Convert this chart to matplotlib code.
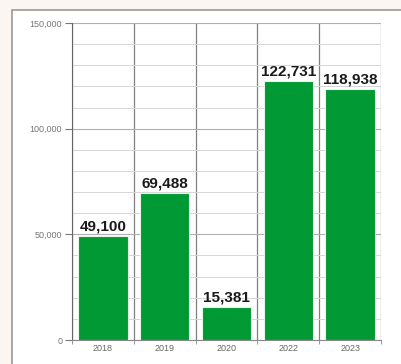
import numpy as np
import matplotlib.pyplot as plt
from matplotlib.patches import Rectangle
from matplotlib.ticker import MultipleLocator, FuncFormatter

plt.rcParams['font.family'] = ['Liberation Sans', 'DejaVu Sans']

years = ["2018", "2019", "2020", "2022", "2023"]
values = [49100, 69488, 15381, 122731, 118938]

fig = plt.figure(figsize=(4.02, 3.64), dpi=100)
fig.patch.set_facecolor("#fbf6f1")
# white panel with grey frame
fig.patches.append(Rectangle((12/402, -0.01), 1.0, (364-10)/364 + 0.01, transform=fig.transFigure,
                             facecolor="white", edgecolor="#999999", linewidth=1.2, zorder=-1))

ax = fig.add_axes([72/402, 24/364, (381-72)/402, (341-24)/364])
ax.set_zorder(2)
ax.set_facecolor("white")
x = np.arange(len(years))
ax.bar(x, values, width=0.8, color="#009933", edgecolor="#e6f4e6", linewidth=0.8, zorder=3)
for xi, v in zip(x, values):
    ax.text(xi, v + 1200, f"{v:,}", ha="center", va="bottom", fontsize=11,
            fontweight="bold", color="#1a1a1a", zorder=4)

ax.set_xlim(-0.5, len(years) - 0.5)
ax.set_ylim(0, 150000)
ax.set_xticks(x)
ax.set_xticklabels(years)
ax.set_xticks(np.arange(-0.5, len(years)), minor=True)
ax.yaxis.set_major_locator(MultipleLocator(50000))
ax.yaxis.set_minor_locator(MultipleLocator(10000))
ax.yaxis.set_major_formatter(FuncFormatter(lambda v, p: f"{int(v):,}"))
ax.tick_params(axis="x", which="major", length=0, labelsize=6.5, labelcolor="#666666", pad=3)
ax.tick_params(axis="x", which="minor", length=3, color="#888888")
ax.tick_params(axis="y", which="major", length=5, labelsize=6.5, labelcolor="#777777", color="#777777", pad=2)
ax.tick_params(axis="y", which="minor", length=0)
ax.grid(axis="x", which="minor", color="#808080", linewidth=0.9, zorder=1)
ax.grid(axis="y", which="minor", color="#d6d6d6", linewidth=0.7, zorder=1)
ax.grid(axis="y", which="major", color="#b0b0b0", linewidth=0.8, zorder=1)
for s in ["top", "right"]:
    ax.spines[s].set_visible(False)
ax.spines["left"].set_color("#666666")
ax.spines["bottom"].set_color("#888888")

fig.savefig("out.png", dpi=100, facecolor=fig.get_facecolor())
